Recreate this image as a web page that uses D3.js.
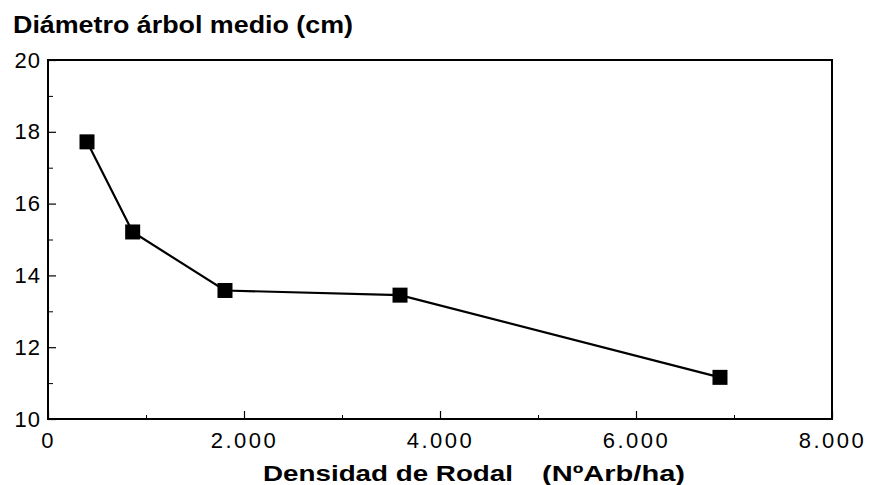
<!DOCTYPE html>
<html>
<head>
<meta charset="utf-8">
<script src="https://cdn.jsdelivr.net/npm/d3@7"></script>
<style>
html,body{margin:0;padding:0;background:#fff;}
svg{display:block;}
text{font-family:"Liberation Sans",Arial,Helvetica,sans-serif;fill:#000;}
</style>
</head>
<body>
<script>
// Data
const density = [398, 864, 1806, 3592, 6857];          // Nº Arb/ha
const diameter = [17.72, 15.21, 13.58, 13.45, 11.16];  // cm
const xTicks = [0, 2000, 4000, 6000, 8000];
const xTickLabels = ["0", "2.000", "4.000", "6.000", "8.000"];
const xMinorTicks = [1000, 3000, 5000, 7000];
const yTicks = [10, 12, 14, 16, 18, 20];
const yMinorTicks = [11, 13, 15, 17, 19];
const titleText = "Diámetro árbol medio (cm)";
const xLabelA = "Densidad de Rodal";
const xLabelB = "(NºArb/ha)";

const W = 870, H = 485;
const m = {left: 48, right: 832, top: 60, bottom: 419};

const svg = d3.select("body").append("svg").attr("width", W).attr("height", H);

const x = d3.scaleLinear().domain([0, 8000]).range([m.left, m.right]);
const y = d3.scaleLinear().domain([10, 20]).range([m.bottom, m.top]);

// frame
svg.append("rect")
  .attr("x", m.left).attr("y", m.top)
  .attr("width", m.right - m.left).attr("height", m.bottom - m.top)
  .attr("fill", "none").attr("stroke", "#000").attr("stroke-width", 2);

// x axis ticks (inside)
const xAxis = d3.axisBottom(x).tickValues(xTicks).tickSize(-8)
  .tickFormat((d, i) => xTickLabels[i]).tickPadding(13);
const gx = svg.append("g").attr("transform", `translate(0,${m.bottom})`).call(xAxis);
gx.select(".domain").remove();
gx.selectAll(".tick line").attr("stroke", "#000").attr("stroke-width", 1.2);
gx.selectAll(".tick text").attr("font-size", 22).attr("letter-spacing", 2.5)
  .attr("dy", "0.71em").attr("font-family", '"Liberation Sans",Arial,sans-serif');

const gxm = svg.append("g").attr("transform", `translate(0,${m.bottom})`)
  .call(d3.axisBottom(x).tickValues(xMinorTicks).tickSize(-4).tickFormat(""));
gxm.select(".domain").remove();
gxm.selectAll(".tick line").attr("stroke", "#000").attr("stroke-width", 1);

// y axis ticks (inside)
const yAxis = d3.axisLeft(y).tickValues(yTicks).tickSize(-8).tickPadding(7).tickFormat(d3.format("d"));
const gy = svg.append("g").attr("transform", `translate(${m.left},0)`).call(yAxis);
gy.select(".domain").remove();
gy.selectAll(".tick line").attr("stroke", "#000").attr("stroke-width", 1.2);
gy.selectAll(".tick text").attr("font-size", 22).attr("letter-spacing", 1)
  .attr("font-family", '"Liberation Sans",Arial,sans-serif');

const gym = svg.append("g").attr("transform", `translate(${m.left},0)`)
  .call(d3.axisLeft(y).tickValues(yMinorTicks).tickSize(-5).tickFormat(""));
gym.select(".domain").remove();
gym.selectAll(".tick line").attr("stroke", "#000").attr("stroke-width", 1);

// line
const pts = density.map((d, i) => [d, diameter[i]]);
svg.append("path").datum(pts)
  .attr("fill", "none").attr("stroke", "#000").attr("stroke-width", 2.2)
  .attr("d", d3.line().x(d => x(d[0])).y(d => y(d[1])));

// square markers
const s = 15;
svg.selectAll("rect.mk").data(pts).enter().append("rect").attr("class", "mk")
  .attr("x", d => x(d[0]) - s / 2).attr("y", d => y(d[1]) - s / 2)
  .attr("width", s).attr("height", s).attr("fill", "#000");

// title
svg.append("text").attr("x", 13).attr("y", 33)
  .attr("font-size", 23).attr("font-weight", "bold")
  .attr("textLength", 340).attr("lengthAdjust", "spacingAndGlyphs")
  .text(titleText);

// x axis label
svg.append("text").attr("x", 263).attr("y", 481)
  .attr("font-size", 22).attr("font-weight", "bold")
  .attr("textLength", 250).attr("lengthAdjust", "spacingAndGlyphs")
  .text(xLabelA);
svg.append("text").attr("x", 542).attr("y", 481)
  .attr("font-size", 22).attr("font-weight", "bold")
  .attr("textLength", 143).attr("lengthAdjust", "spacingAndGlyphs")
  .text(xLabelB);
</script>
</body>
</html>
